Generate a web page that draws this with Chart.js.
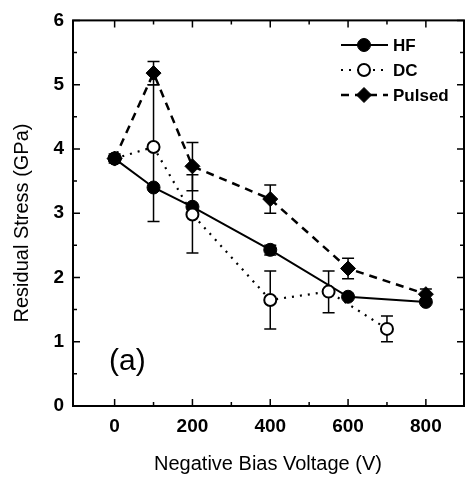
<!DOCTYPE html>
<html>
<head>
<meta charset="utf-8">
<script src="https://cdn.jsdelivr.net/npm/chart.js@4"></script>
<style>
  html, body { margin: 0; padding: 0; background: #fff; }
  #wrap { width: 473px; height: 481px; }
</style>
</head>
<body>
<div id="wrap"><canvas id="c" width="473" height="481"></canvas></div>
<script>
// data
const hfX = [0, 100, 200, 400, 600, 800];
const hfY = [3.85, 3.4, 3.1, 2.43, 1.7, 1.62];
const hfLo = [3.78, null, null, 2.35, null, null];
const hfHi = [3.92, null, null, 2.5, null, null];

const dcX = [0, 100, 200, 400, 550, 700];
const dcY = [3.85, 4.03, 2.98, 1.65, 1.78, 1.2];
const dcLo = [null, 2.87, 2.38, 1.2, 1.45, 1.0];
const dcHi = [null, 5.0, 3.6, 2.1, 2.1, 1.4];

const puX = [0, 100, 200, 400, 600, 800];
const puY = [3.85, 5.18, 3.73, 3.22, 2.14, 1.74];
const puLo = [null, 5.0, 3.35, 3.0, 1.98, 1.66];
const puHi = [null, 5.36, 4.1, 3.44, 2.3, 1.82];

const xTickVals = [0, 200, 400, 600, 800];
const xMinorVals = [100, 300, 500, 700];
const yTickVals = [0, 1, 2, 3, 4, 5, 6];
const yMinorVals = [0.5, 1.5, 2.5, 3.5, 4.5, 5.5];

const seriesNames = ['HF', 'DC', 'Pulsed'];

const FONT = "'Liberation Sans', Arial, sans-serif";

function pts(xs, ys) {
    return xs.map((x, i) => ({x: x, y: ys[i]}));
}

const errSets = [
    {xs: hfX, lo: hfLo, hi: hfHi},
    {xs: dcX, lo: dcLo, hi: dcHi},
    {xs: puX, lo: puLo, hi: puHi}
];

const datasets = [
    {
        label: seriesNames[0], data: pts(hfX, hfY),
        borderColor: '#000', backgroundColor: '#000', borderWidth: 2,
        pointStyle: 'circle', pointRadius: 6.5, pointBackgroundColor: '#000',
        pointBorderColor: '#000', pointBorderWidth: 1, order: 3
    },
    {
        label: seriesNames[1], data: pts(dcX, dcY),
        borderColor: '#000', backgroundColor: '#fff', borderWidth: 2.2,
        borderDash: [2, 6],
        pointStyle: 'circle', pointRadius: 6, pointBackgroundColor: '#fff',
        pointBorderColor: '#000', pointBorderWidth: 2, order: 2
    },
    {
        label: seriesNames[2], data: pts(puX, puY),
        borderColor: '#000', backgroundColor: '#000', borderWidth: 2.5,
        borderDash: [8, 6],
        pointStyle: 'rectRot', pointRadius: 7.5, pointBackgroundColor: '#000',
        pointBorderColor: '#000', pointBorderWidth: 1, order: 1
    }
];

// frame, inward ticks, error bars, legend, panel label
const decor = {
    id: 'decor',
    beforeDatasetsDraw(chart) {
        const ctx = chart.ctx;
        const xs = chart.scales.x, ys = chart.scales.y;
        ctx.save();
        ctx.strokeStyle = '#000';
        ctx.lineWidth = 1.5;
        errSets.forEach(s => {
            s.xs.forEach((xv, i) => {
                if (s.lo[i] === null) return;
                const px = xs.getPixelForValue(xv);
                const p1 = ys.getPixelForValue(s.lo[i]);
                const p2 = ys.getPixelForValue(s.hi[i]);
                ctx.beginPath();
                ctx.moveTo(px, p1); ctx.lineTo(px, p2);
                ctx.moveTo(px - 6, p1); ctx.lineTo(px + 6, p1);
                ctx.moveTo(px - 6, p2); ctx.lineTo(px + 6, p2);
                ctx.stroke();
            });
        });
        ctx.restore();
    },
    afterDraw(chart) {
        const ctx = chart.ctx;
        const a = chart.chartArea;
        const xs = chart.scales.x, ys = chart.scales.y;
        ctx.save();
        ctx.strokeStyle = '#000';
        ctx.lineWidth = 2;
        ctx.strokeRect(a.left, a.top, a.right - a.left, a.bottom - a.top);

        ctx.lineWidth = 1.5;
        ctx.beginPath();
        xTickVals.forEach(v => {
            const p = xs.getPixelForValue(v);
            ctx.moveTo(p, a.bottom); ctx.lineTo(p, a.bottom - 7);
            ctx.moveTo(p, a.top); ctx.lineTo(p, a.top + 7);
        });
        xMinorVals.forEach(v => {
            const p = xs.getPixelForValue(v);
            ctx.moveTo(p, a.bottom); ctx.lineTo(p, a.bottom - 4);
            ctx.moveTo(p, a.top); ctx.lineTo(p, a.top + 4);
        });
        yTickVals.forEach(v => {
            const p = ys.getPixelForValue(v);
            ctx.moveTo(a.left, p); ctx.lineTo(a.left + 7, p);
            ctx.moveTo(a.right, p); ctx.lineTo(a.right - 7, p);
        });
        yMinorVals.forEach(v => {
            const p = ys.getPixelForValue(v);
            ctx.moveTo(a.left, p); ctx.lineTo(a.left + 4, p);
            ctx.moveTo(a.right, p); ctx.lineTo(a.right - 4, p);
        });
        ctx.stroke();

        // legend
        const legendY = [45, 70, 95];
        const lx0 = 341, lx1 = 388, mx = 364;
        chart.data.datasets.forEach((ds, i) => {
            const y = legendY[i];
            ctx.save();
            ctx.strokeStyle = '#000';
            ctx.lineWidth = ds.borderWidth;
            ctx.setLineDash(ds.borderDash || []);
            ctx.beginPath();
            ctx.moveTo(lx0, y); ctx.lineTo(lx1, y);
            ctx.stroke();
            ctx.restore();
            ctx.save();
            ctx.fillStyle = ds.pointBackgroundColor;
            ctx.strokeStyle = ds.pointBorderColor;
            ctx.lineWidth = ds.pointBorderWidth;
            Chart.helpers.drawPoint(ctx, {pointStyle: ds.pointStyle, radius: ds.pointRadius, borderWidth: ds.pointBorderWidth}, mx, y);
            ctx.restore();
            ctx.fillStyle = '#000';
            ctx.font = 'bold 17px ' + FONT;
            ctx.textAlign = 'left';
            ctx.textBaseline = 'middle';
            ctx.fillText(ds.label, 393, y + 1);
        });

        // panel label
        ctx.fillStyle = '#000';
        ctx.font = '30px ' + FONT;
        ctx.textAlign = 'left';
        ctx.textBaseline = 'middle';
        ctx.fillText('(a)', 109, 362);

        // axis titles
        ctx.font = '20px ' + FONT;
        ctx.textAlign = 'center';
        ctx.fillText('Negative Bias Voltage (V)', 268, 464);
        ctx.translate(22, 223);
        ctx.rotate(-Math.PI / 2);
        ctx.fillText('Residual Stress (GPa)', 0, 0);
        ctx.restore();
    }
};

const chart = new Chart(document.getElementById('c'), {
    type: 'line',
    data: {datasets: datasets},
    options: {
        responsive: false,
        animation: false,
        layout: {padding: {top: 14, right: 9, left: 0, bottom: 0}},
        plugins: {legend: {display: false}, tooltip: {enabled: false}},
        scales: {
            x: {
                type: 'linear', min: -107, max: 898,
                grid: {display: false, drawTicks: false},
                border: {display: false},
                afterBuildTicks: s => { s.ticks = xTickVals.map(v => ({value: v})); },
                afterFit: s => { s.height = 75; },
                ticks: {color: '#000', padding: 9, font: {family: FONT, size: 19, weight: 'bold'}, maxRotation: 0}
            },
            y: {
                type: 'linear', min: 0, max: 6,
                grid: {display: false, drawTicks: false},
                border: {display: false},
                afterBuildTicks: s => { s.ticks = yTickVals.map(v => ({value: v})); },
                afterFit: s => { s.width = 73; },
                ticks: {color: '#000', padding: 9, font: {family: FONT, size: 19, weight: 'bold'}}
            }
        }
    },
    plugins: [decor]
});
</script>
</body>
</html>
